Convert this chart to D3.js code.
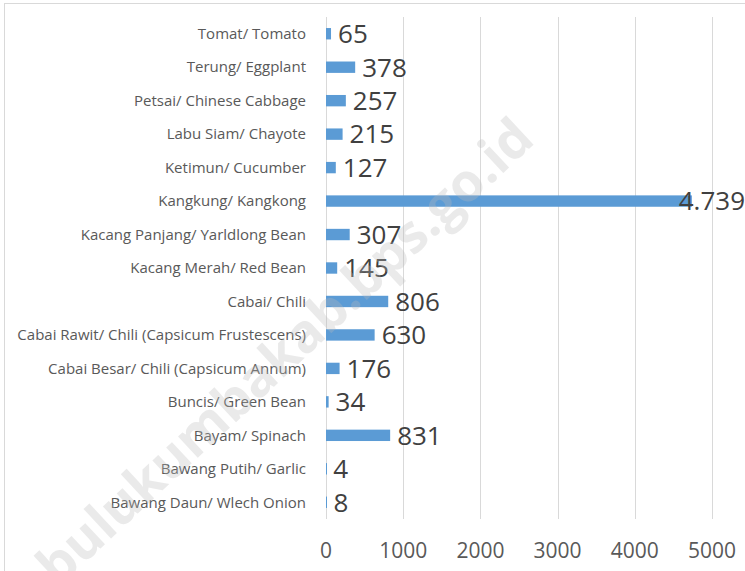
<!DOCTYPE html>
<html>
<head>
<meta charset="utf-8">
<script src="https://cdn.jsdelivr.net/npm/d3@7"></script>
<style>
  body { margin: 0; background: #fff; }
  svg { font-family: "Open Sans", "Liberation Sans", sans-serif; }
</style>
</head>
<body>
<script>
  // Data, top to bottom
  var categories = [
    "Tomat/ Tomato",
    "Terung/ Eggplant",
    "Petsai/ Chinese Cabbage",
    "Labu Siam/ Chayote",
    "Ketimun/ Cucumber",
    "Kangkung/ Kangkong",
    "Kacang Panjang/ Yarldlong Bean",
    "Kacang Merah/ Red Bean",
    "Cabai/ Chili",
    "Cabai Rawit/ Chili (Capsicum Frustescens)",
    "Cabai Besar/ Chili (Capsicum Annum)",
    "Buncis/ Green Bean",
    "Bayam/ Spinach",
    "Bawang Putih/ Garlic",
    "Bawang Daun/ Wlech Onion"
  ];
  var values = [65, 378, 257, 215, 127, 4739, 307, 145, 806, 630, 176, 34, 831, 4, 8];
  var valueLabels = ["65", "378", "257", "215", "127", "4.739", "307", "145", "806", "630", "176", "34", "831", "4", "8"];
  var ticks = [0, 1000, 2000, 3000, 4000, 5000];

  var width = 745, height = 571;
  var margin = { top: 17, right: 33, bottom: 52, left: 326 };

  var svg = d3.select("body").append("svg")
    .attr("width", width)
    .attr("height", height);

  // chart frame
  svg.append("rect")
    .attr("x", 4.5).attr("y", 3.5)
    .attr("width", width + 10).attr("height", height + 10)
    .attr("fill", "#fff")
    .attr("stroke", "#d9d9d9");

  var x = d3.scaleLinear()
    .domain([0, 5000])
    .range([margin.left, width - margin.right]);

  var y = d3.scaleBand()
    .domain(categories)
    .range([margin.top, height - margin.bottom])
    .paddingInner(0.66)
    .paddingOuter(0.33);

  // gridlines
  svg.append("g").selectAll("line")
    .data(ticks)
    .enter().append("line")
    .attr("x1", function(d) { return Math.round(x(d)) + 0.5; })
    .attr("x2", function(d) { return Math.round(x(d)) + 0.5; })
    .attr("y1", margin.top)
    .attr("y2", height - margin.bottom)
    .attr("stroke", "#d9d9d9");

  // tick labels
  svg.append("g").selectAll("text")
    .data(ticks)
    .enter().append("text")
    .attr("x", function(d) { return x(d); })
    .attr("y", 558)
    .attr("text-anchor", "middle")
    .attr("font-size", 21)
    .attr("fill", "#595959")
    .text(function(d) { return d; });

  // bars
  svg.append("g").selectAll("rect")
    .data(values)
    .enter().append("rect")
    .attr("x", x(0))
    .attr("y", function(d, i) { return y(categories[i]); })
    .attr("width", function(d) { return Math.max(x(d) - x(0), 1); })
    .attr("height", y.bandwidth())
    .attr("fill", "#5b9bd5");

  // category labels
  svg.append("g").selectAll("text")
    .data(categories)
    .enter().append("text")
    .attr("x", 306)
    .attr("y", function(d) { return y(d) + y.bandwidth() / 2; })
    .attr("dy", "0.35em")
    .attr("text-anchor", "end")
    .attr("font-size", 15)
    .attr("fill", "#595959")
    .text(function(d) { return d; });

  // value labels
  svg.append("g").selectAll("text")
    .data(values)
    .enter().append("text")
    .attr("x", function(d) { return x(d) + 7; })
    .attr("y", function(d, i) { return y(categories[i]) + y.bandwidth() / 2; })
    .attr("dy", "0.36em")
    .attr("font-size", 26)
    .attr("fill", "#404040")
    .text(function(d, i) { return valueLabels[i]; })
    .each(function() {
      // keep labels inside the chart area like the original
      var w = this.getComputedTextLength();
      var lx = +d3.select(this).attr("x");
      if (lx + w > width) d3.select(this).attr("x", width - w);
    });

  // watermark
  svg.append("text")
    .attr("transform", "translate(58,588) rotate(-43)")
    .attr("font-size", 53)
    .attr("font-weight", "bold")
    .attr("fill", "#bbbbbb")
    .attr("opacity", 0.3)
    .text("bulukumbakab.bps.go.id");
</script>
</body>
</html>
